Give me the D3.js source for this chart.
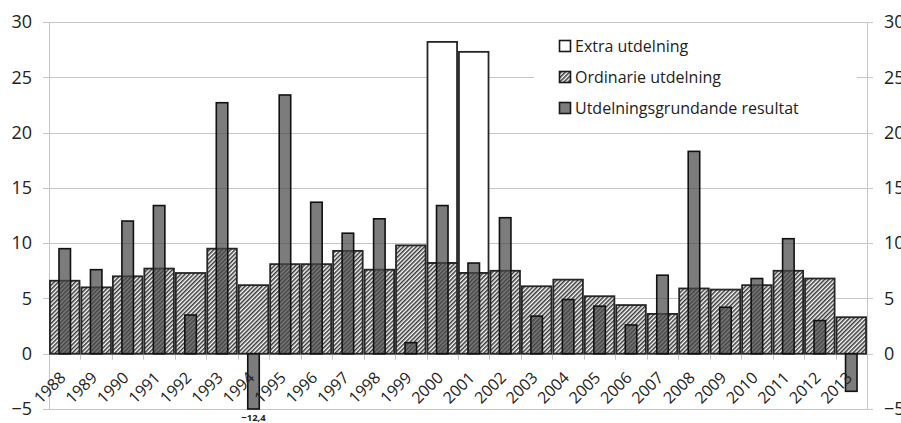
<!DOCTYPE html>
<html>
<head>
<meta charset="utf-8">
<script src="https://cdnjs.cloudflare.com/ajax/libs/d3/7.8.5/d3.min.js"></script>
<style>
  html, body { margin: 0; padding: 0; background: #fff; }
  svg { display: block; font-family: "Open Sans", "Noto Sans", sans-serif; }
</style>
</head>
<body>
<svg id="chart" width="901" height="423"></svg>
<script>
// Utdelning och utdelningsgrundande resultat per år
const years = ["1988","1989","1990","1991","1992","1993","1994","1995","1996","1997","1998","1999","2000",
               "2001","2002","2003","2004","2005","2006","2007","2008","2009","2010","2011","2012","2013"];
const ordinarie = [6.6, 6.0, 7.0, 7.7, 7.3, 9.5, 6.2, 8.1, 8.1, 9.3, 7.6, 9.8, 8.2,
                   7.3, 7.5, 6.1, 6.7, 5.2, 4.4, 3.6, 5.9, 5.8, 6.2, 7.5, 6.8, 3.3];
const extra = [0, 0, 0, 0, 0, 0, 0, 0, 0, 0, 0, 0, 20.0,
               20.0, 0, 0, 0, 0, 0, 0, 0, 0, 0, 0, 0, 0];
const resultat = [9.5, 7.6, 12.0, 13.4, 3.5, 22.7, -12.4, 23.4, 13.7, 10.9, 12.2, 1.0, 13.4,
                  8.2, 12.3, 3.4, 4.9, 4.3, 2.6, 7.1, 18.3, 4.2, 6.8, 10.4, 3.0, -3.4];
const yTicks = [-5, 0, 5, 10, 15, 20, 25, 30];
const seriesNames = ["Extra utdelning", "Ordinarie utdelning", "Utdelningsgrundande resultat"];

const svg = d3.select("#chart");
const plotLeft = 49, plotRight = 867, plotTop = 22, plotBottom = 409;

const x = d3.scaleBand().domain(years).range([plotLeft, plotRight]).paddingInner(0.06).paddingOuter(0.03);
const y = d3.scaleLinear().domain([-5, 30]).range([plotBottom, plotTop]).clamp(true);

// diagonal hatch for ordinary dividend
const defs = svg.append("defs");
const pat = defs.append("pattern")
  .attr("id", "hatch").attr("patternUnits", "userSpaceOnUse")
  .attr("width", 3).attr("height", 3)
  .attr("patternTransform", "rotate(45)");
pat.append("rect").attr("width", 3).attr("height", 3).attr("fill", "#fff");
pat.append("line").attr("x1", 0.8).attr("y1", 0).attr("x2", 0.8).attr("y2", 3)
  .attr("stroke", "#1a1a1a").attr("stroke-width", 1.35);

// horizontal gridlines with small outside ticks
svg.append("g").selectAll("line").data(yTicks).join("line")
  .attr("x1", plotLeft - 6).attr("x2", plotRight + 6)
  .attr("y1", d => Math.round(y(d)) + 0.5).attr("y2", d => Math.round(y(d)) + 0.5)
  .attr("stroke", "#c6c6c6").attr("stroke-width", 1);

// vertical axis lines
svg.append("g").selectAll("line").data([plotLeft, plotRight]).join("line")
  .attr("x1", d => d + 0.5).attr("x2", d => d + 0.5)
  .attr("y1", plotTop).attr("y2", plotBottom + 0.5)
  .attr("stroke", "#c6c6c6").attr("stroke-width", 1);

// category ticks below the zero line
const boundaries = d3.range(years.length + 1).map(i => plotLeft + i * (plotRight - plotLeft) / years.length);
svg.append("g").selectAll("line").data(boundaries).join("line")
  .attr("x1", d => Math.round(d) + 0.5).attr("x2", d => Math.round(d) + 0.5)
  .attr("y1", y(0)).attr("y2", y(0) + 6)
  .attr("stroke", "#c6c6c6").attr("stroke-width", 1);

// y-axis labels, both sides
const fmt = d3.format("d");
svg.append("g").selectAll("text").data(yTicks).join("text")
  .attr("x", 32).attr("y", d => y(d)).attr("dy", "0.35em")
  .attr("text-anchor", "end").attr("font-size", 18).attr("fill", "#222")
  .text(d => fmt(d));
svg.append("g").selectAll("text").data(yTicks).join("text")
  .attr("x", 884).attr("y", d => y(d)).attr("dy", "0.35em")
  .attr("text-anchor", "start").attr("font-size", 18).attr("fill", "#222")
  .text(d => fmt(d));

// legend box sits behind bars but over gridlines
svg.append("rect").attr("x", 534).attr("y", 30).attr("width", 323).attr("height", 95).attr("fill", "#fff");

const bw = x.bandwidth();
const gw = 11.5;

// extra dividend stacked on ordinary
svg.append("g").selectAll("rect").data(years.filter((d, i) => extra[i] > 0)).join("rect")
  .attr("x", d => x(d)).attr("width", bw)
  .attr("y", d => { const i = years.indexOf(d); return y(ordinarie[i] + extra[i]); })
  .attr("height", d => { const i = years.indexOf(d); return y(ordinarie[i]) - y(ordinarie[i] + extra[i]); })
  .attr("fill", "#fff").attr("stroke", "#262626").attr("stroke-width", 1.8);

// ordinary dividend
svg.append("g").selectAll("rect").data(years).join("rect")
  .attr("x", d => x(d)).attr("width", bw)
  .attr("y", (d, i) => y(ordinarie[i]))
  .attr("height", (d, i) => y(0) - y(ordinarie[i]))
  .attr("fill", "url(#hatch)").attr("stroke", "#262626").attr("stroke-width", 1.8);

// distributable result, semi-transparent over the dividend bars
svg.append("g").selectAll("rect").data(years).join("rect")
  .attr("x", d => x(d) + bw / 2 - gw / 2).attr("width", gw)
  .attr("y", (d, i) => Math.min(y(resultat[i]), y(0)))
  .attr("height", (d, i) => Math.abs(y(0) - y(resultat[i])))
  .attr("fill", "#4a4a4a").attr("fill-opacity", 0.72)
  .attr("stroke", "#111").attr("stroke-width", 1.6);

// value note for the clipped bar
years.forEach((d, i) => {
  if (resultat[i] < y.domain()[0]) {
    svg.append("text")
      .attr("x", x(d) + bw / 2).attr("y", 421)
      .attr("text-anchor", "middle").attr("font-size", 9.5).attr("font-weight", "bold")
      .attr("fill", "#222")
      .text("\u2212" + d3.format(".1f")(-resultat[i]).replace(".", ","));
  }
});

// rotated year labels
svg.append("g").selectAll("text").data(years).join("text")
  .attr("transform", d => `translate(${x(d) + bw / 2 + 2},${y(0) + 25}) rotate(-45)`)
  .attr("text-anchor", "end").attr("font-size", 16).attr("fill", "#222")
  .text(d => d);

// legend
const lg = svg.append("g");
const swatchFill = ["#fff", "url(#hatch)", "#4a4a4a"];
const swatchOpacity = [1, 1, 0.72];
seriesNames.forEach((name, i) => {
  const cy = 46 + i * 31;
  lg.append("rect").attr("x", 559.5).attr("y", cy - 5.5).attr("width", 11).attr("height", 11)
    .attr("fill", swatchFill[i]).attr("fill-opacity", swatchOpacity[i])
    .attr("stroke", "#1a1a1a").attr("stroke-width", 1.6);
  lg.append("text").attr("x", 575).attr("y", cy).attr("dy", "0.35em")
    .attr("font-size", 16).attr("fill", "#222").text(name);
});
</script>
</body>
</html>
